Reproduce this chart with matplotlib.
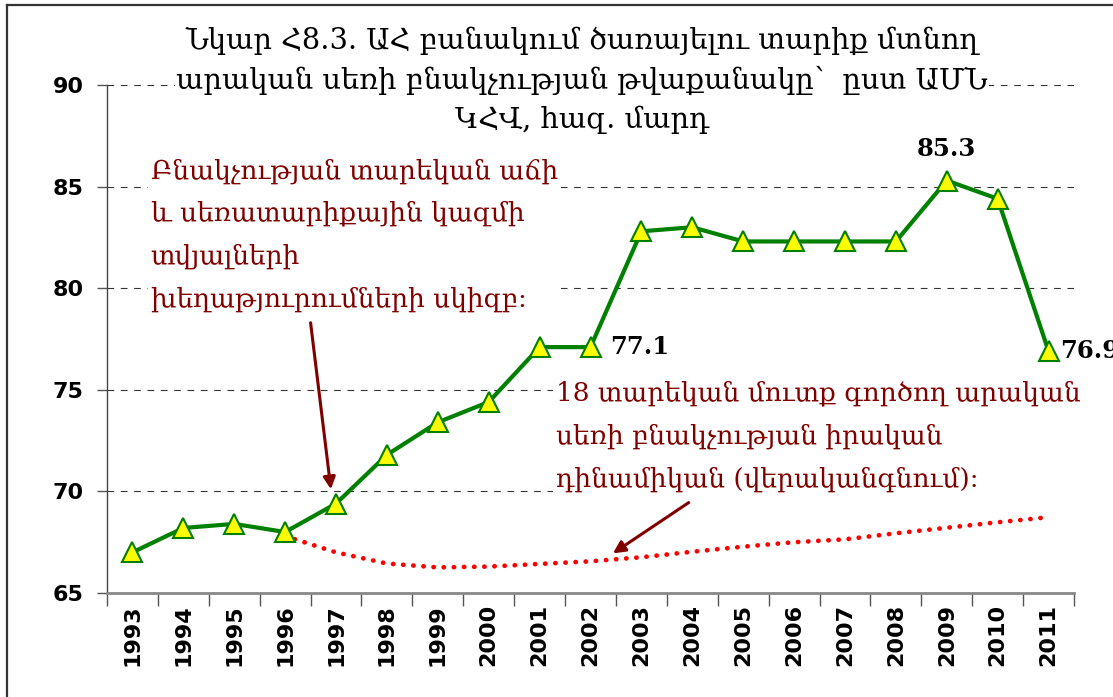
import matplotlib
matplotlib.use("Agg")
import matplotlib.pyplot as plt
from matplotlib.lines import Line2D

years = ["1993", "1994", "1995", "1996", "1997", "1998", "1999", "2000", "2001", "2002",
         "2003", "2004", "2005", "2006", "2007", "2008", "2009", "2010", "2011"]
draft_age = [67.0, 68.2, 68.4, 68.0, 69.4, 71.8, 73.4, 74.4, 77.1, 77.1,
             82.8, 83.0, 82.3, 82.3, 82.3, 82.3, 85.3, 84.4, 76.9]
real_years = years[3:]
real_values = [67.8, 67.0, 66.45, 66.26, 66.3, 66.43, 66.56, 66.76, 67.03, 67.28,
               67.5, 67.64, 67.94, 68.21, 68.48, 68.73]
yticks = [65, 70, 75, 80, 85, 90]

title = "Նկար Հ8.3. ԱՀ բանակում ծառայելու տարիք մտնող\nարական սեռի բնակչության թվաքանակը՝  ըստ ԱՄՆ\nԿՀՎ, հազ. մարդ"
note1 = "Բնակչության տարեկան աճի\nև սեռատարիքային կազմի\nտվյալների\nխեղաթյուրումների սկիզբ:"
note2 = "18 տարեկան մուտք գործող արական\nսեռի բնակչության իրական\nդինամիկան (վերականգնում):"

W, H = 1113, 697
fig = plt.figure(figsize=(W / 100, H / 100), dpi=100)
ax = fig.add_axes([107 / W, 1 - 593 / H, (1074 - 107) / W, (593 - 85) / H])

xi = list(range(len(years)))
xr = [years.index(y) for y in real_years]

dark_red = "#800000"

for v in yticks[1:]:
    ax.axhline(v, color="#333333", lw=0.8, dashes=(6, 6), zorder=1)

ax.plot(xr, real_values, color="#ff0000", lw=3.4, linestyle=(0, (0.05, 2.1)),
        dash_capstyle="round", zorder=3)
ax.plot(xi, draft_age, color="#008000", lw=3, marker="^", markersize=15,
        markerfacecolor="#ffff00", markeredgecolor="#008000", markeredgewidth=1.5,
        zorder=4, clip_on=False)

ax.set_xlim(-0.5, len(years) - 0.5)
ax.set_ylim(65, 90)
ax.set_yticks(yticks)
ax.set_yticklabels([str(v) for v in yticks], fontsize=16, fontweight="bold")
ax.set_xticks(xi)
ax.set_xticklabels(years, rotation=90, fontsize=16, fontweight="bold")
ax.set_xticks([i - 0.5 for i in range(len(years) + 1)], minor=True)
ax.tick_params(axis="x", which="major", length=0, pad=8)
ax.tick_params(axis="x", which="minor", length=9, width=1, color="#555555", direction="out")
ax.tick_params(axis="y", length=7, width=1, color="#555555", direction="out", pad=10)
for s in ["top", "right"]:
    ax.spines[s].set_visible(False)
ax.spines["left"].set_color("#444444")
ax.spines["left"].set_linewidth(1)
ax.spines["bottom"].set_color("#888888")
ax.spines["bottom"].set_linewidth(2)

serif = ["DejaVu Serif"]

ax.annotate("77.1", xy=(9, draft_age[9]), xytext=(20, 0), textcoords="offset pixels",
            fontsize=17.5, fontweight="bold", family=serif, va="center", ha="left")
ax.annotate("85.3", xy=(16, draft_age[16]), xytext=(0, 20), textcoords="offset pixels",
            fontsize=17.5, fontweight="bold", family=serif, va="bottom", ha="center")
ax.annotate("76.9", xy=(18, draft_age[18]), xytext=(12, 0), textcoords="offset pixels",
            fontsize=17.5, fontweight="bold", family=serif, va="center", ha="left",
            annotation_clip=False)

# title
fig.text(582 / W, 1 - 27 / H, title, ha="center", va="top", fontsize=20.8,
         family=serif, linespacing=1.46, color="black",
         bbox=dict(facecolor="white", edgecolor="none", pad=1), zorder=10)

# notes
ax.text(0.36, 86.4, note1, ha="left", va="top", fontsize=19, family=serif,
        color=dark_red, linespacing=1.86,
        bbox=dict(facecolor="white", edgecolor="none", pad=2), zorder=5)
ax.text(8.32, 75.45, note2, ha="left", va="top", fontsize=19, family=serif,
        color=dark_red, linespacing=1.86,
        bbox=dict(facecolor="white", edgecolor="none", pad=2), zorder=5)

arrow = dict(arrowstyle="-|>", color=dark_red, lw=2.2, mutation_scale=18, shrinkA=0, shrinkB=0)
ax.annotate("", xy=(3.9, 70.1), xytext=(3.5, 78.3), arrowprops=arrow, zorder=6)
ax.annotate("", xy=(9.44, 66.95), xytext=(10.93, 69.45), arrowprops=arrow, zorder=6)

# outer border
fig.add_artist(Line2D([7 / W, 7 / W], [0, 1 - 5 / H], transform=fig.transFigure,
                      color="#333333", lw=1.6))
fig.add_artist(Line2D([7 / W, 1], [1 - 5 / H, 1 - 5 / H], transform=fig.transFigure,
                      color="#333333", lw=1.6))

fig.savefig("out.png", dpi=100, facecolor="white")
